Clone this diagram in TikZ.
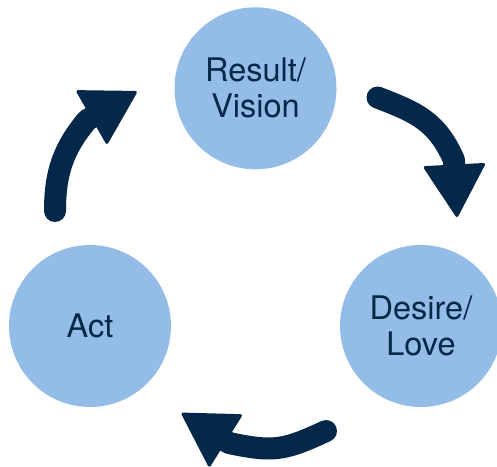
\documentclass[tikz,border=0pt]{standalone}
\usepackage{fontspec}
\setmainfont{TeX Gyre Heros}
\usepackage{tikz}
\usetikzlibrary{arrows.meta}
\definecolor{navy}{RGB}{4,40,73}
\definecolor{skyblue}{RGB}{147,189,230}

\begin{document}
\begin{tikzpicture}[x=1pt, y=1pt,
    stage/.style={circle, fill=skyblue, minimum size=162pt, inner sep=0pt,
        text=navy, align=center, font=\fontsize{32.5}{36}\selectfont},
    cycle arrow/.style={navy, line width=22pt, line cap=round, line join=round,
        -{Triangle[length=54pt, width=63pt, round, line width=3pt]}}]
    \useasboundingbox (0,0) rectangle (497,466);
    % the three stages
    \node[stage] (result) at (255.5,377.7) {Result/\\Vision};
    \node[stage] (desire) at (421,140) {Desire/\\Love};
    \node[stage] (act) at (90,140) {Act};
    % tail, base of the head and tip of each curved arrow
    \coordinate (act tail) at (55,255);
    \coordinate (act base) at (87.2,346);
    \coordinate (act tip) at (136.7,374.3);
    \coordinate (result tail) at (377.5,368.5);
    \coordinate (result base) at (454,306);
    \coordinate (result tip) at (457,249);
    \coordinate (desire tail) at (326,35);
    \coordinate (desire base) at (229,23);
    \coordinate (desire tip) at (181.7,52.7);
    \draw[cycle arrow] (act tail) to[out=90, in=230] (act base) -- (act tip);
    \draw[cycle arrow] (result tail) to[out=-21, in=114, looseness=1.1] (result base) -- (result tip);
    \draw[cycle arrow] (desire tail) to[out=205, in=-12, looseness=1.2] (desire base) -- (desire tip);
\end{tikzpicture}
\end{document}
